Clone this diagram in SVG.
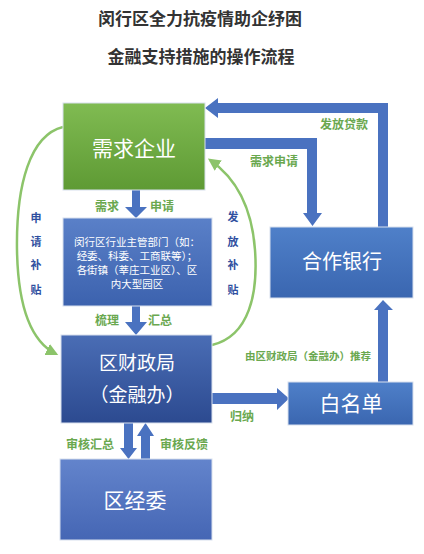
<svg xmlns="http://www.w3.org/2000/svg" width="424" height="554" viewBox="0 0 424 554">
<defs>
<linearGradient id="gGreen" x1="0" y1="0" x2="0" y2="1"><stop offset="0" stop-color="#80bb52"/><stop offset="1" stop-color="#5e9a34"/></linearGradient>
<linearGradient id="gBlue" x1="0" y1="0" x2="0" y2="1"><stop offset="0" stop-color="#5a80c8"/><stop offset="1" stop-color="#3c62ae"/></linearGradient>
<linearGradient id="gDark" x1="0" y1="0" x2="0" y2="1"><stop offset="0" stop-color="#4a6db5"/><stop offset="1" stop-color="#2c4a90"/></linearGradient>
<linearGradient id="gBank" x1="0" y1="0" x2="0" y2="1"><stop offset="0" stop-color="#4f80c9"/><stop offset="1" stop-color="#3a66b0"/></linearGradient>
<linearGradient id="gJw" x1="0" y1="0" x2="0" y2="1"><stop offset="0" stop-color="#6384cc"/><stop offset="1" stop-color="#4566b4"/></linearGradient>
<marker id="gArr" viewBox="0 0 10 10" refX="8" refY="5" markerWidth="5" markerHeight="5" orient="auto"><path d="M0,0 L10,5 L0,10 z" fill="#8cc46a"/></marker>
<style>
text{font-family:"Noto Sans CJK SC","Noto Sans",sans-serif;}
.title{font-size:17px;font-weight:bold;fill:#333;text-anchor:middle;}
.node{font-size:21px;fill:#fff;text-anchor:middle;}
.small{font-size:10.5px;fill:#fff;text-anchor:middle;}
.lbl{font-size:12px;font-weight:bold;fill:#6aa84f;}
.vlbl{font-size:11px;font-weight:bold;fill:#2f4f9f;text-anchor:middle;}
.arrow{fill:#4a72c0;}
.curve{fill:none;stroke:#8cc46a;stroke-width:2.5;}
.box{stroke:#d8e0ee;stroke-width:1;}
</style>
</defs>
<rect width="424" height="554" fill="#fff"/>
<g id="title">
<text class="title" x="200" y="25">闵行区全力抗疫情助企纾困</text>
<text class="title" x="201" y="63">金融支持措施的操作流程</text>
</g>
<g id="connectors">
<polygon class="arrow" points="132,190 140,190 140,207 147,207 136,218 125,207 132,207"/>
<polygon class="arrow" points="132,306 140,306 140,322 147,322 136,335 125,322 132,322"/>
<polygon class="arrow" points="212,393 277,393 277,388 289,398.5 277,410 277,404 212,404"/>
<polygon class="arrow" points="378,382 388,382 388,310 393,310 383,300 374,310 378,310"/>
<polygon class="arrow" points="205,138 317,138 317,213 322,213 312.5,226 303,213 307,213 307,149 205,149"/>
<polygon class="arrow" points="388,227 378,227 378,113 218,113 218,118 205,108 218,98 218,103 388,103"/>
<polygon class="arrow" points="124,423 133,423 133,448 137,448 128.5,459 120,448 124,448"/>
<polygon class="arrow" points="141,459 150,459 150,436 154,436 145.5,423 137,436 141,436"/>
<path class="curve" d="M63,127 C30,135 16,185 17,250 C18,310 32,342 56,354" marker-end="url(#gArr)"/>
<path class="curve" d="M212,345 C250,336 258,292 255,250 C252,208 236,178 210,160" marker-end="url(#gArr)"/>
<text class="lbl" x="95" y="211">需求</text>
<text class="lbl" x="150" y="211">申请</text>
<text class="lbl" x="95" y="325">梳理</text>
<text class="lbl" x="148" y="325">汇总</text>
<text class="lbl" x="250" y="166">需求申请</text>
<text class="lbl" x="320" y="129">发放贷款</text>
<text class="lbl" x="245" y="360" style="font-size:10.5px">由区财政局（金融办）推荐</text>
<text class="lbl" x="230" y="421">归纳</text>
<text class="lbl" x="66" y="449">审核汇总</text>
<text class="lbl" x="160" y="449">审核反馈</text>
<text class="vlbl" x="36" y="222">申</text>
<text class="vlbl" x="36" y="246">请</text>
<text class="vlbl" x="36" y="269">补</text>
<text class="vlbl" x="36" y="294">贴</text>
<text class="vlbl" x="233" y="221">发</text>
<text class="vlbl" x="233" y="246">放</text>
<text class="vlbl" x="233" y="269">补</text>
<text class="vlbl" x="233" y="294">贴</text>
</g>
<g id="n_qiye">
<rect class="box" x="63" y="103" width="142" height="87" fill="url(#gGreen)"/>
<text class="node" x="134" y="156">需求企业</text>
</g>
<g id="n_bumen">
<rect class="box" x="63" y="218" width="149" height="88" fill="url(#gBlue)"/>
<text class="small" x="137" y="246">闵行区行业主管部门（如：</text>
<text class="small" x="137" y="260">经委、科委、工商联等）；</text>
<text class="small" x="137" y="274">各街镇（莘庄工业区）、区</text>
<text class="small" x="137" y="288">内大型园区</text>
</g>
<g id="n_caizheng">
<rect class="box" x="61" y="335" width="151" height="88" fill="url(#gDark)"/>
<text class="node" x="137" y="370" style="font-size:19px">区财政局</text>
<text class="node" x="137" y="402" style="font-size:19px">（金融办）</text>
</g>
<g id="n_bank">
<rect class="box" x="270" y="227" width="143" height="71" fill="url(#gBank)"/>
<text class="node" x="342" y="269" style="font-size:20px">合作银行</text>
</g>
<g id="n_white">
<rect class="box" x="288" y="382" width="125" height="43" fill="url(#gBank)"/>
<text class="node" x="351" y="411">白名单</text>
</g>
<g id="n_jingwei">
<rect class="box" x="60" y="459" width="152" height="81" fill="url(#gJw)"/>
<text class="node" x="135" y="508">区经委</text>
</g>
</svg>
